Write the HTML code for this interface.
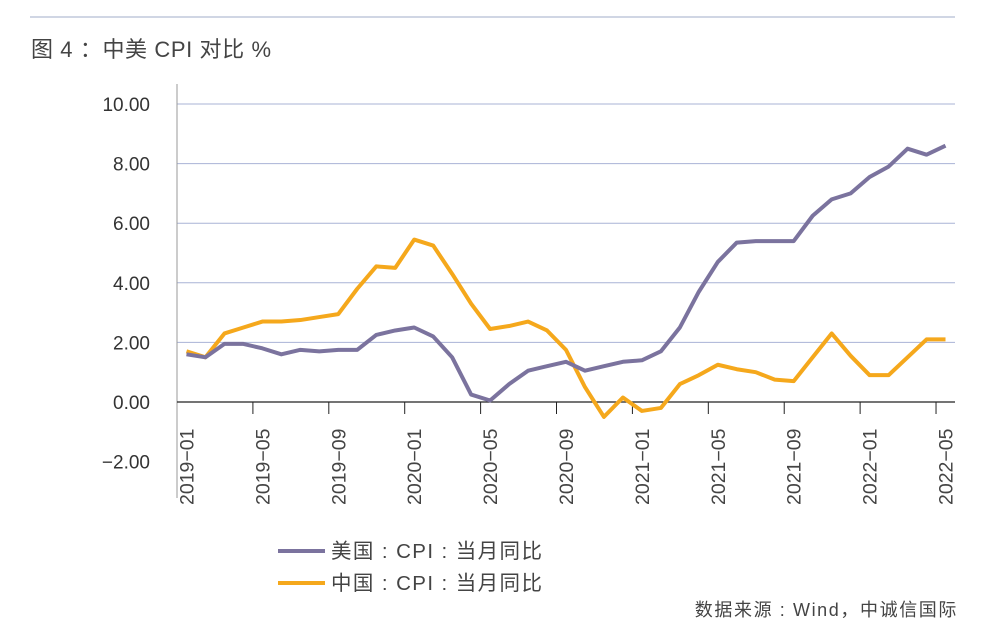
<!DOCTYPE html>
<html><head><meta charset="utf-8"><style>
body{margin:0;background:#fff;}
svg text{font-family:"Liberation Sans","Noto Sans CJK SC",sans-serif;}
</style></head><body>
<svg id="chart" width="983" height="638" xmlns="http://www.w3.org/2000/svg">
<line x1="30" y1="17" x2="955" y2="17" stroke="#b3bdd3" stroke-width="1.2"/>
<text x="31" y="57" font-size="22" letter-spacing="0.6" fill="#444">图 4 ：中美 CPI 对比 %</text>
<g id="grid"></g><g id="series"></g>
<g>
<line x1="278" y1="551" x2="325" y2="551" stroke="#7b739e" stroke-width="4"/>
<text x="331" y="558" font-size="20.5" letter-spacing="1.4" fill="#444">美国 : CPI : 当月同比</text>
<line x1="278" y1="583" x2="325" y2="583" stroke="#f5a81c" stroke-width="4"/>
<text x="331" y="590" font-size="20.5" letter-spacing="1.4" fill="#444">中国 : CPI : 当月同比</text>
</g>
<text x="958" y="616" font-size="18" letter-spacing="1.6" fill="#444" text-anchor="end">数据来源 : Wind，中诚信国际</text>
</svg>
<script>
const months=[];for(let y=2019;y<=2022;y++)for(let m=1;m<=12;m++){if(y===2022&&m>5)break;months.push(y+'-'+String(m).padStart(2,'0'));}
const usCPI=[1.6,1.5,1.95,1.95,1.8,1.6,1.75,1.7,1.75,1.75,2.25,2.4,2.5,2.2,1.5,0.25,0.05,0.6,1.05,1.2,1.35,1.05,1.2,1.35,1.4,1.7,2.5,3.7,4.7,5.35,5.4,5.4,5.4,6.25,6.8,7.0,7.55,7.9,8.5,8.3,8.6];
const cnCPI=[1.7,1.5,2.3,2.5,2.7,2.7,2.75,2.85,2.95,3.8,4.55,4.5,5.45,5.25,4.3,3.3,2.45,2.55,2.7,2.4,1.75,0.5,-0.5,0.15,-0.3,-0.2,0.6,0.9,1.25,1.1,1.0,0.75,0.7,1.5,2.3,1.55,0.9,0.9,1.5,2.1,2.1];
const yTicks=[10,8,6,4,2,0,-2];
const svg=document.getElementById('chart'),grid=document.getElementById('grid'),ser=document.getElementById('series');
const NS='http://www.w3.org/2000/svg';
const x0=177,x1=955,bw=(x1-x0)/months.length;
const xs=i=>x0+(i+0.5)*bw;
const ys=v=>402-v*29.8;
function mk(tag,attrs,parent){const e=document.createElementNS(NS,tag);for(const k in attrs)e.setAttribute(k,attrs[k]);parent.appendChild(e);return e;}
yTicks.forEach(v=>{
 if(v!==0&&v>-2){const l=mk('line',{x1:x0,x2:x1,y1:ys(v),y2:ys(v),stroke:'#a9b3d6','stroke-width':1},grid);
 
 }
 const t=mk('text',{x:150,y:ys(v)+7,'font-size':19,fill:'#333','text-anchor':'end'},grid);
 t.textContent=v.toFixed(2).replace('-','−');
 
 
});
const ax=mk('line',{x1:x0,x2:x0,y1:84,y2:498,stroke:'#999','stroke-width':1},grid);


const xa=mk('line',{x1:x0,x2:x1,y1:ys(0),y2:ys(0),stroke:'#222','stroke-width':1.2},grid);


months.forEach((m,i)=>{
 if(i%4!==0)return;
 if(i>0){const tk=mk('line',{x1:x0+i*bw,x2:x0+i*bw,y1:ys(0),y2:ys(0)+12,stroke:'#222','stroke-width':1},grid);
 
 }
 const t=mk('text',{x:0,y:0,'font-size':19.5,fill:'#444','text-anchor':'start',transform:`translate(${xs(i)+7},505) rotate(-90)`},grid);
 t.textContent=m.replace('-','−');
 
 
});
function line(data,color,name){
 const p=mk('polyline',{points:data.map((v,i)=>xs(i)+','+ys(v)).join(' '),fill:'none',stroke:color,'stroke-width':4,'stroke-linejoin':'round'},ser);
 
 
}
line(cnCPI,'#f5a81c','china-cpi-line');
line(usCPI,'#7b739e','us-cpi-line');
</script>
</body></html>
